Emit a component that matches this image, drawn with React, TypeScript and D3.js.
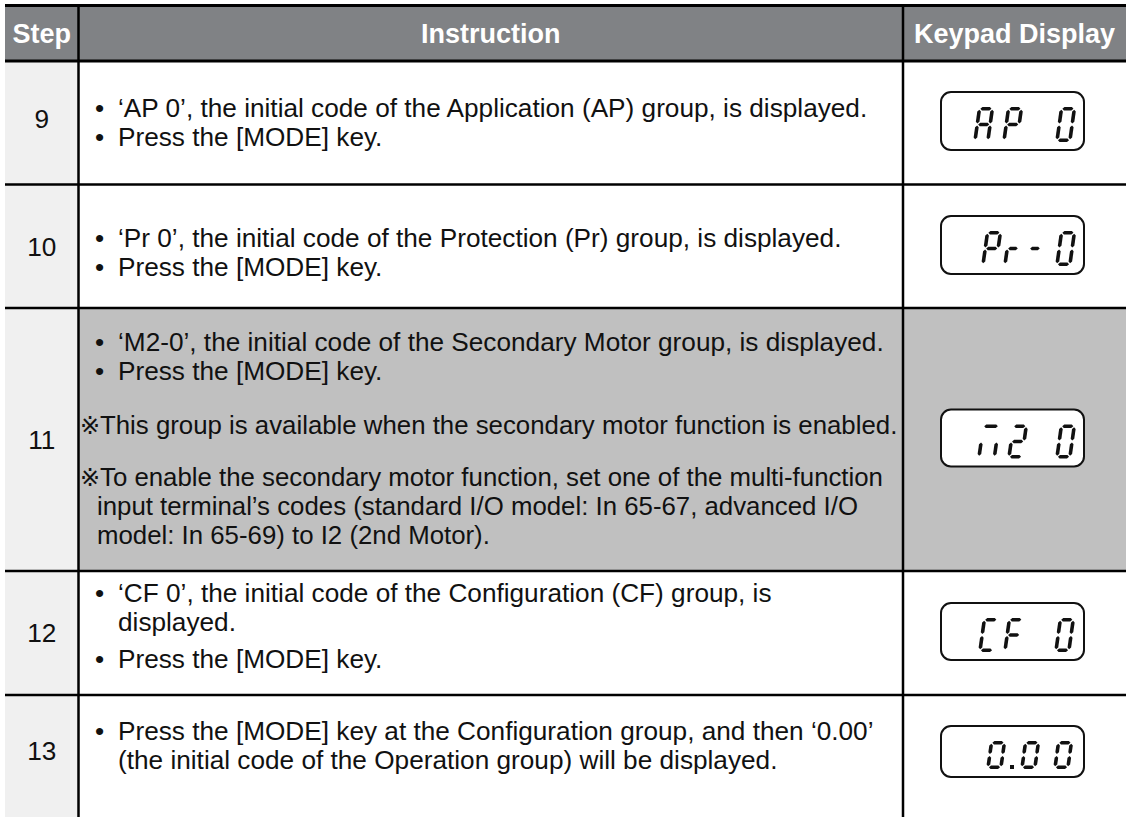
import React from "react";
import * as d3 from "d3";

// ---------- data ----------
const HEADERS = ["Step", "Instruction", "Keypad Display"];
const STEPS = ["9", "10", "11", "12", "13"];
type Line = { kind: "bullet" | "note" | "cont" | "wrap"; text: string };
const ROW9: Line[] = [
  { kind: "bullet", text: "‘AP 0’, the initial code of the Application (AP) group, is displayed." },
  { kind: "bullet", text: "Press the [MODE] key." },
];
const ROW10: Line[] = [
  { kind: "bullet", text: "‘Pr 0’, the initial code of the Protection (Pr) group, is displayed." },
  { kind: "bullet", text: "Press the [MODE] key." },
];
const ROW11: Line[] = [
  { kind: "bullet", text: "‘M2-0’, the initial code of the Secondary Motor group, is displayed." },
  { kind: "bullet", text: "Press the [MODE] key." },
  { kind: "note", text: "This group is available when the secondary motor function is enabled." },
  { kind: "note", text: "To enable the secondary motor function, set one of the multi-function" },
  { kind: "cont", text: "input terminal’s codes (standard I/O model: In 65-67, advanced I/O" },
  { kind: "cont", text: "model: In 65-69) to I2 (2nd Motor)." },
];
const ROW12: Line[] = [
  { kind: "bullet", text: "‘CF 0’, the initial code of the Configuration (CF) group, is" },
  { kind: "wrap", text: "displayed." },
  { kind: "bullet", text: "Press the [MODE] key." },
];
const ROW13: Line[] = [
  { kind: "bullet", text: "Press the [MODE] key at the Configuration group, and then ‘0.00’" },
  { kind: "wrap", text: "(the initial code of the Operation group) will be displayed." },
];
const INSTRUCTIONS = [ROW9, ROW10, ROW11, ROW12, ROW13];
const KEYPAD = ["AP 0", "Pr- 0", "m2 0", "CF 0", "0.00"];
const SHADED = [false, false, true, false, false];

// ---------- layout / style ----------
const W = 1126, H = 817;
const COL = [5, 78.5, 903, 1126];
const ROW_EDGES = [61, 184.5, 308, 571, 695, 817];
const LINE_Y = [
  [117, 146],
  [247, 276],
  [351, 380, 434, 486, 515, 544],
  [602, 631, 668],
  [740, 769],
];
const STEP_Y = [128, 256, 449, 642, 760];
const BOX = [
  { cy: 121, h: 58 },
  { cy: 245, h: 58 },
  { cy: 438, h: 57 },
  { cy: 631.5, h: 57 },
  { cy: 751.5, h: 51 },
];
const GLYPH_X = [
  [973, 1002, 0, 1055],
  [981, 1003, 1025, 0, 1055],
  [977, 1007, 0, 1055],
  [978, 1003, 0, 1054],
  [986, 1010, 1020, 1053],
];
const FONT = "'Liberation Sans', Arial, sans-serif";
const FS = 26.2;
const HEADER_FILL = "#808285";
const STEP_FILL = "#f0f0f0";
const SHADE_FILL = "#c0c0c0";
const INK = "#111";

const SEGS: Record<string, string> = {
  A: "abcefg", P: "abefg", "0": "abcdef", r: "eg", "-": "g", m: "ace",
  "2": "abged", C: "adef", F: "aefg",
};
const GW: Record<string, number> = { r: 15, "-": 15, m: 19 };

const poly = d3.line<[number, number]>().curve(d3.curveLinearClosed);

function glyphPaths(ch: string, h: number): string[] {
  const w = GW[ch] ?? 16.5, t = 3.6, g = 0.9;
  const xl = t / 2, xr = w - t / 2;
  const yT = -h + t / 2, yM = -h / 2, yB = -t / 2;
  const hor = (y: number): [number, number][] => [
    [xl + g, y], [xl + g + t / 2, y - t / 2], [xr - g - t / 2, y - t / 2],
    [xr - g, y], [xr - g - t / 2, y + t / 2], [xl + g + t / 2, y + t / 2],
  ];
  const ver = (x: number, y1: number, y2: number): [number, number][] => [
    [x, y1 + g], [x + t / 2, y1 + g + t / 2], [x + t / 2, y2 - g - t / 2],
    [x, y2 - g], [x - t / 2, y2 - g - t / 2], [x - t / 2, y1 + g + t / 2],
  ];
  const map: Record<string, [number, number][]> = {
    a: hor(yT), g: hor(yM), d: hor(yB),
    f: ver(xl, yT, yM), b: ver(xr, yT, yM),
    e: ver(xl, yM, yB), c: ver(xr, yM, yB),
  };
  return (SEGS[ch] || "").split("").map((s) => poly(map[s]) as string);
}

function Keypad({ text, xs, cy, bh }: { text: string; xs: number[]; cy: number; bh: number }) {
  const bw = 143;
  const bx = 941, by = cy - bh / 2;
  const yb = by + bh - 8;
  const gh = bh - 23;
  return (
    <g>
      <rect x={bx} y={by} width={bw} height={bh} rx={10} ry={10} fill="#fff" stroke={INK} strokeWidth={2} />
      {text.split("").map((ch, i) => {
        if (ch === " ") return null;
        if (ch === ".") return <rect key={i} x={xs[i]} y={yb - 4} width={4} height={4} fill={INK} />;
        return (
          <g key={i} transform={`translate(${xs[i]},${yb}) skewX(-8)`}>
            {glyphPaths(ch, gh).map((p, j) => <path key={j} d={p} fill={INK} />)}
          </g>
        );
      })}
    </g>
  );
}

export default function App() {
  const rowTop = (i: number) => ROW_EDGES[i];
  const rowBot = (i: number) => ROW_EDGES[i + 1];
  const colCenter = d3.range(3).map((i) => (COL[i] + COL[i + 1]) / 2);
  return (
    <svg width={W} height={H} style={{ position: "absolute", left: 0, top: 0 }} fontFamily={FONT}>
      <rect x={0} y={0} width={W} height={H} fill="#fff" />
      {/* header */}
      <rect x={COL[0]} y={5.5} width={W - COL[0]} height={ROW_EDGES[0] - 5.5} fill={HEADER_FILL} />
      {HEADERS.map((h, i) => (
        <text key={h} x={colCenter[i]} y={43} textAnchor="middle" fill="#fff" fontWeight="bold" fontSize={27}>
          {h}
        </text>
      ))}
      {/* row backgrounds */}
      {STEPS.map((s, i) => (
        <g key={s}>
          <rect x={COL[0]} y={rowTop(i)} width={COL[1] - COL[0]} height={rowBot(i) - rowTop(i)} fill={STEP_FILL} />
          {SHADED[i] && (
            <rect x={COL[1]} y={rowTop(i)} width={W - COL[1]} height={rowBot(i) - rowTop(i)} fill={SHADE_FILL} />
          )}
        </g>
      ))}
      {/* grid lines */}
      <line x1={COL[0]} x2={W} y1={5.5} y2={5.5} stroke="#000" strokeWidth={3} />
      {ROW_EDGES.slice(0, 5).map((y, i) => (
        <line key={i} x1={COL[0]} x2={W} y1={y} y2={y} stroke="#000" strokeWidth={i === 0 ? 3 : 2.5} />
      ))}
      <line x1={COL[1]} x2={COL[1]} y1={5.5} y2={H} stroke="#000" strokeWidth={2.5} />
      <line x1={COL[2]} x2={COL[2]} y1={5.5} y2={H} stroke="#000" strokeWidth={2.5} />
      {/* content */}
      {STEPS.map((s, i) => (
        <g key={"c" + s}>
          <text x={colCenter[0]} y={STEP_Y[i]} textAnchor="middle" fontSize={FS} fill={INK}>{s}</text>
          {INSTRUCTIONS[i].map((ln, j) => {
            const y = LINE_Y[i][j];
            if (ln.kind === "bullet")
              return (
                <g key={j}>
                  <text x={95} y={y} fontSize={FS} fill={INK}>•</text>
                  <text x={118} y={y} fontSize={FS} fill={INK}>{ln.text}</text>
                </g>
              );
            if (ln.kind === "wrap")
              return <text key={j} x={118} y={y} fontSize={FS} fill={INK}>{ln.text}</text>;
            if (ln.kind === "note")
              return (
                <g key={j}>
                  <text x={80} y={y} fontSize={24} fill={INK} fontFamily="'DejaVu Sans'">※</text>
                  <text x={100} y={y} fontSize={25.8} fill={INK}>{ln.text}</text>
                </g>
              );
            return <text key={j} x={97} y={y} fontSize={25.8} fill={INK}>{ln.text}</text>;
          })}
          <Keypad text={KEYPAD[i]} xs={GLYPH_X[i]} cy={BOX[i].cy} bh={BOX[i].h} />
        </g>
      ))}
    </svg>
  );
}
